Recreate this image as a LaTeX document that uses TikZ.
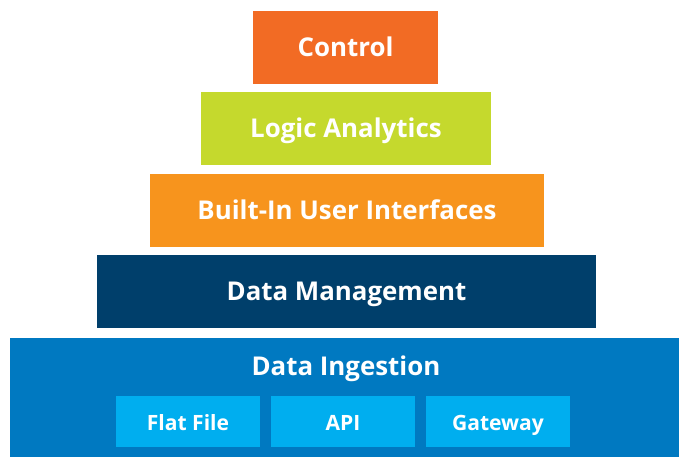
\documentclass[tikz,border=0pt]{standalone}
\usepackage{fontspec}
\setmainfont{Open Sans}
\usetikzlibrary{positioning}
\definecolor{ctrlorange}{RGB}{242,107,36}
\definecolor{logiclime}{RGB}{197,217,45}
\definecolor{uiorange}{RGB}{247,148,29}
\definecolor{mgmtnavy}{RGB}{0,63,107}
\definecolor{ingestblue}{RGB}{0,121,193}
\definecolor{subblue}{RGB}{0,174,239}
\tikzset{
  layer/.style={rectangle, inner sep=0pt, text=white, text height=13.85pt, text depth=0pt,
    font=\fontsize{19.4}{22}\selectfont\bfseries},
  srcbox/.style={rectangle, fill=subblue, inner sep=0pt, text=white, text height=13.5pt, text depth=0pt,
    minimum width=144*0.75pt, minimum height=51*0.75pt, font=\fontsize{15.8}{18}\selectfont\bfseries}
}
\begin{document}
\begin{tikzpicture}[x=0.75pt,y=-0.75pt]
			\useasboundingbox (0,0) rectangle (679,457);
			% layers of the stack
			\node[layer, fill=ctrlorange, minimum width=185*0.75pt, minimum height=73*0.75pt] (control) at (345.5,47.5) {Control};
			\node[layer, fill=logiclime, minimum width=290*0.75pt, minimum height=73*0.75pt] (logic) at (346,128.5) {Logic Analytics};
			\node[layer, fill=uiorange, minimum width=394*0.75pt, minimum height=73*0.75pt] (ui) at (347,210.5) {Built-In User Interfaces};
			\node[layer, fill=mgmtnavy, minimum width=499*0.75pt, minimum height=73*0.75pt] (mgmt) at (346.5,291.5) {Data Management};
			\fill[ingestblue] (10,338) rectangle (679,457);
			\node[layer] (ingest) at (346,366) {Data Ingestion};
			% sources
			\node[srcbox] (flat) at (188,421.5) {Flat File};
			\node[srcbox] (api) at (343,421.5) {API};
			\node[srcbox] (gateway) at (498,421.5) {Gateway};
		\end{tikzpicture}
\end{document}
